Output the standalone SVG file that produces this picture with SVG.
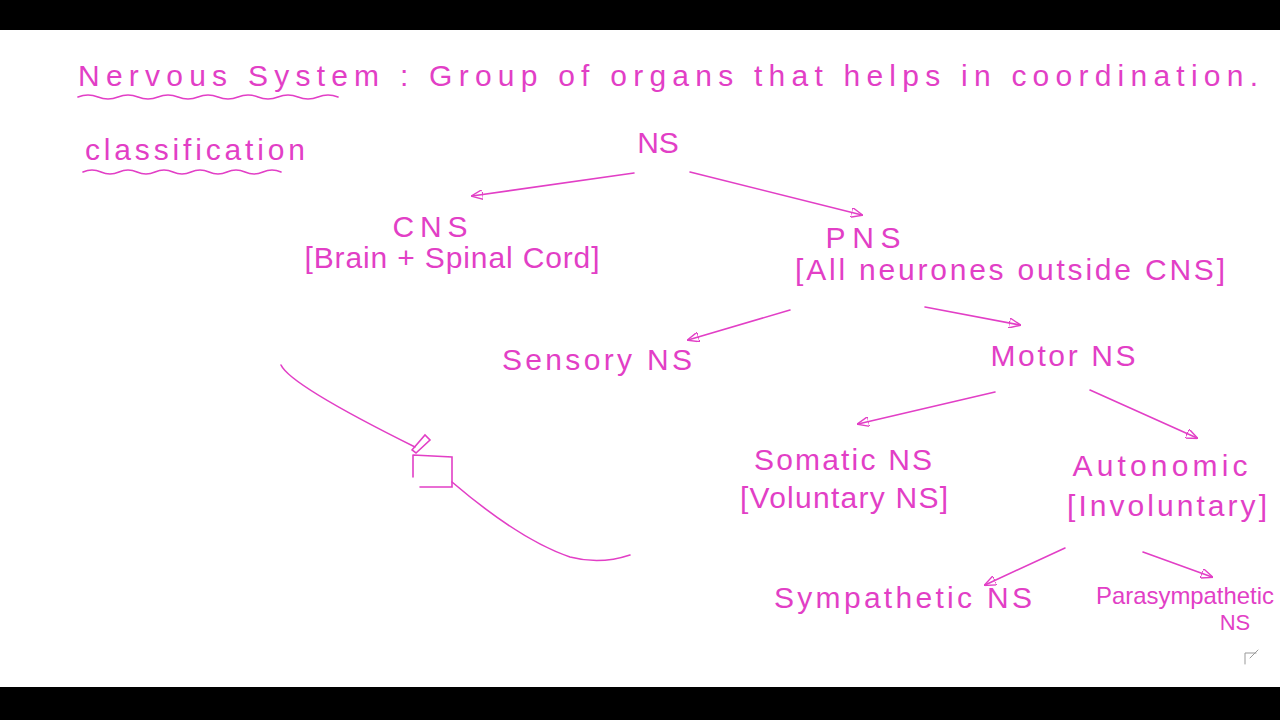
<svg xmlns="http://www.w3.org/2000/svg" width="1280" height="720" viewBox="0 0 1280 720">
<defs>
<style>
.t{font-family:"Liberation Sans",Arial,sans-serif;fill:#e23fc6;font-size:30px;text-anchor:middle}
.l{stroke:#e23fc6;stroke-width:1.6;fill:none;stroke-linecap:round}
</style>
<marker id="a" viewBox="0 0 12 10" refX="11" refY="5" markerWidth="12" markerHeight="10" markerUnits="userSpaceOnUse" orient="auto"><path d="M0,0 L12,5 L0,10 Z" fill="none" stroke="#e23fc6" stroke-width="1.4"/></marker>
</defs>
<rect width="1280" height="720" fill="#fff"/>
<rect width="1280" height="30" fill="#000"/>
<rect y="687" width="1280" height="33" fill="#000"/>
<g id="title"><text class="t" x="668" y="86" textLength="1180" lengthAdjust="spacing">Nervous System : Group of organs that helps in coordination.</text>
<path class="l" d="M78,97 q10,-4 20,0 t20,0 t20,0 t20,0 t20,0 t20,0 t20,0 t20,0 t20,0 t20,0 t20,0 t20,0 t20,0"/></g>
<g id="classification"><text class="t" x="195" y="160" textLength="220" lengthAdjust="spacing">classification</text>
<path class="l" d="M83,172 q9,-4 18,0 t18,0 t18,0 t18,0 t18,0 t18,0 t18,0 t18,0 t18,0 t18,0 t18,0"/></g>
<g id="ns"><text class="t" x="658" y="153">NS</text></g>
<g id="cns"><text class="t" x="430" y="237" textLength="75" lengthAdjust="spacing">CNS</text><text class="t" x="452" y="268" textLength="295" lengthAdjust="spacing">[Brain + Spinal Cord]</text></g>
<g id="pns"><text class="t" x="863" y="248" textLength="75" lengthAdjust="spacing">PNS</text><text class="t" x="1010" y="280" textLength="430" lengthAdjust="spacing">[All neurones outside CNS]</text></g>
<g id="sensory"><text class="t" x="597" y="370" textLength="190" lengthAdjust="spacing">Sensory NS</text></g>
<g id="motor"><text class="t" x="1063" y="366" textLength="145" lengthAdjust="spacing">Motor NS</text></g>
<g id="somatic"><text class="t" x="843" y="470" textLength="178" lengthAdjust="spacing">Somatic NS</text><text class="t" x="844" y="508" textLength="208" lengthAdjust="spacing">[Voluntary NS]</text></g>
<g id="autonomic"><text class="t" x="1160" y="476" textLength="175" lengthAdjust="spacing">Autonomic</text><text class="t" x="1167" y="516" textLength="200" lengthAdjust="spacing">[Involuntary]</text></g>
<g id="sympathetic"><text class="t" x="903" y="608" textLength="258" lengthAdjust="spacing">Sympathetic NS</text></g>
<g id="parasympathetic"><text class="t" x="1185" y="604" style="font-size:24px" textLength="178" lengthAdjust="spacingAndGlyphs">Parasympathetic</text><text class="t" x="1235" y="630" style="font-size:22px">NS</text></g>
<g id="connectors">
<path class="l" d="M634,173 L472,196" marker-end="url(#a)"/>
<path class="l" d="M690,172 L862,215" marker-end="url(#a)"/>
<path class="l" d="M790,310 L688,340" marker-end="url(#a)"/>
<path class="l" d="M925,307 L1020,325" marker-end="url(#a)"/>
<path class="l" d="M995,392 L858,424" marker-end="url(#a)"/>
<path class="l" d="M1090,390 L1197,438" marker-end="url(#a)"/>
<path class="l" d="M1065,548 L985,585" marker-end="url(#a)"/>
<path class="l" d="M1143,552 L1212,577" marker-end="url(#a)"/>
</g>
<g id="sketch">
<path class="l" d="M281,365 Q290,385 415,447"/>
<path class="l" d="M413,455 L413,477 M413,455 L452,457 L452,487 L420,487"/>
<path class="l" d="M452,482 Q520,540 570,557 Q600,565 630,555"/>
<path class="l" d="M412,450 L425,435 L430,440 L416,453 Z"/>
</g>
<path class="l" d="M1245,664 L1245,653 L1256,653 M1250,658 L1258,650" style="stroke:#999;stroke-width:1"/>
</svg>
